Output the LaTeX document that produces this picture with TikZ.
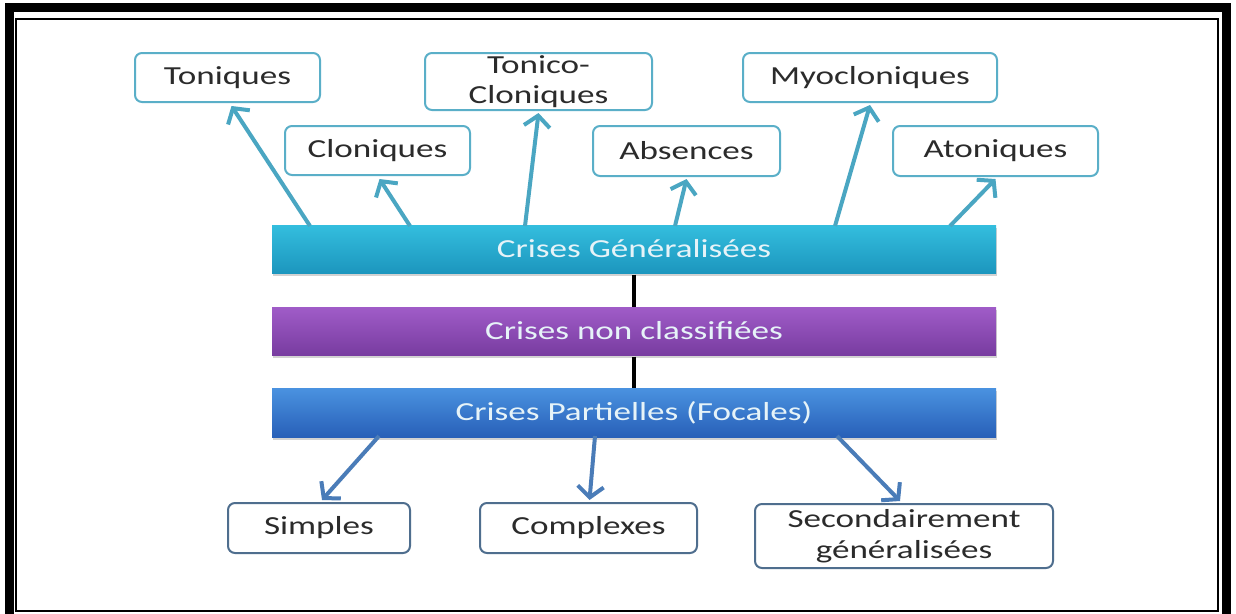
\documentclass[tikz,border=0pt]{standalone}
\usepackage{fontspec}
\setmainfont{Carlito}[FakeStretch=1.35]
\usetikzlibrary{arrows.meta,shadows}
\definecolor{topline}{HTML}{5AAFC8}
\definecolor{toparrow}{HTML}{4AA6C2}
\definecolor{botline}{HTML}{4F6E8E}
\definecolor{botarrow}{HTML}{4A7CB8}
\definecolor{txt}{HTML}{2B2B2B}
\definecolor{bartxt}{HTML}{E6F3F8}
\tikzset{
  topbox/.style={draw=topline, line width=2pt, rounded corners=7pt, fill=white, inner sep=0pt, align=center, text=txt, font=\fontsize{26}{30}\selectfont},
  botbox/.style={draw=botline, line width=2pt, rounded corners=7pt, fill=white, inner sep=0pt, align=center, text=txt, font=\fontsize{26}{31}\selectfont},
  bar/.style={minimum width=724pt, inner sep=0pt, text=bartxt, font=\fontsize{26}{30}\selectfont,
    drop shadow={shadow xshift=1pt, shadow yshift=-2.5pt, opacity=0.35}},
  uparrow/.style={draw=toparrow, line width=4pt, -{Straight Barb[length=11pt,width=26pt]}},
  downarrow/.style={draw=botarrow, line width=4pt, -{Straight Barb[length=11pt,width=26pt]}},
  link/.style={draw=black, line width=3.5pt}
}
\begin{document}
\begin{tikzpicture}[x=1pt,y=-1pt]
\useasboundingbox (0,0) rectangle (1236,613);
\begin{scope}
\clip (0,0) rectangle (1236,613);
\fill[white] (0,0) rectangle (1236,613);
\draw[black, line width=9pt] (9,7.5) rectangle (1226,630);
\draw[black, line width=1.5pt] (16,19) rectangle (1218,611);
\end{scope}
% links (behind bars)
\coordinate (gs) at (634,273);
% bars
\node[bar, minimum height=48pt, top color={rgb,255:red,52;green,190;blue,222}, bottom color={rgb,255:red,28;green,150;blue,190}] (g) at (634,249) {Crises Généralisées};
\node[bar, minimum height=48pt, top color={rgb,255:red,160;green,92;blue,200}, bottom color={rgb,255:red,120;green,60;blue,160}] (n) at (634,331) {Crises non classifiées};
\node[bar, minimum height=49pt, top color={rgb,255:red,74;green,146;blue,224}, bottom color={rgb,255:red,40;green,96;blue,184}] (p) at (634,412.5) {Crises Partielles (Focales)};
% top boxes
\node[topbox, minimum width=185pt, minimum height=49pt] (ton) at (227.5,77.5) {Toniques};
\node[topbox, minimum width=185pt, minimum height=49pt] (clo) at (377.5,150.5) {Cloniques};
\node[topbox, minimum width=227pt, minimum height=57pt] (tc) at (538.5,81.5) {Tonico-\\Cloniques};
\node[topbox, minimum width=187pt, minimum height=50pt] (abs) at (686.5,151) {Absences};
\node[topbox, minimum width=254pt, minimum height=49pt] (myo) at (870,77.5) {Myocloniques};
\node[topbox, minimum width=205pt, minimum height=50pt] (ato) at (995.5,151) {Atoniques};
% bottom boxes
\node[botbox, minimum width=182pt, minimum height=50pt] (sim) at (319,528) {Simples};
\node[botbox, minimum width=217pt, minimum height=50pt] (com) at (588.5,528) {Complexes};
\node[botbox, minimum width=298pt, minimum height=64pt] (sec) at (904,536) {Secondairement\\généralisées};
% start points
\coordinate (s1) at (310,226);
\coordinate (s2) at (410,226);
\coordinate (s3) at (525,226);
\coordinate (s4) at (675,226);
\coordinate (s5) at (835,226);
\coordinate (s6) at (950,226);
\coordinate (b1) at (379,436);
\coordinate (b2) at (595,436);
\coordinate (b3) at (837,436);
% arrows
\draw[uparrow] (s1) -- ([xshift=4pt,yshift=-3pt]ton.south);
\draw[uparrow] (s2) -- ([xshift=2pt,yshift=-3pt]clo.south);
\draw[uparrow] (s3) -- ([yshift=-2pt]tc.south);
\draw[uparrow] (s4) -- ([yshift=-2pt]abs.south);
\draw[uparrow] (s5) -- ([yshift=-2pt]myo.south);
\draw[uparrow] (s6) -- ([yshift=-2pt]ato.south);
\draw[downarrow] (b1) -- ([xshift=3pt,yshift=2pt]sim.north);
\draw[downarrow] (b2) -- ([xshift=1pt,yshift=2pt]com.north);
\draw[downarrow] (b3) -- ([xshift=-4pt,yshift=2pt]sec.north);
\draw[link] ([yshift=-1.5pt]g.south) -- (n.north);
\draw[link] ([yshift=-1.5pt]n.south) -- (p.north);
\end{tikzpicture}
\end{document}
